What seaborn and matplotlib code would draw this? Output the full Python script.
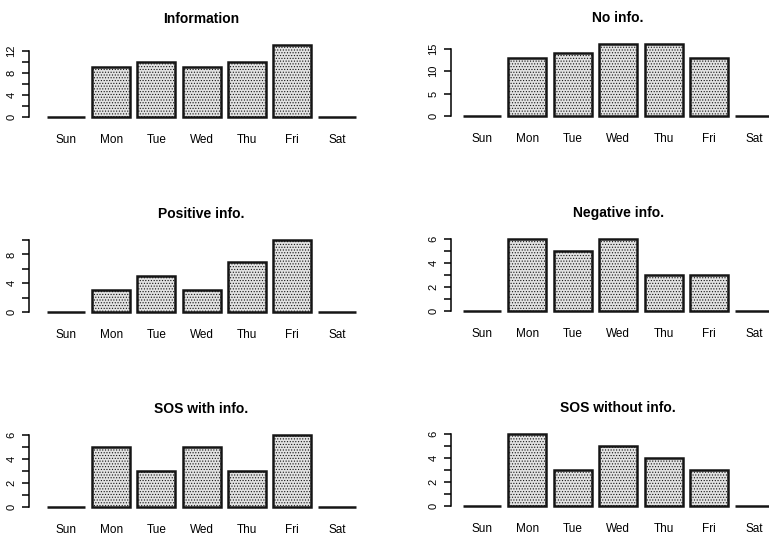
import matplotlib
matplotlib.use('Agg')
import matplotlib.pyplot as plt
import seaborn as sns
import pandas as pd
from matplotlib.ticker import FixedLocator

days = ['Sun', 'Mon', 'Tue', 'Wed', 'Thu', 'Fri', 'Sat']

titles = ['Information', 'No info.', 'Positive info.',
          'Negative info.', 'SOS with info.', 'SOS without info.']

information = [0, 9, 10, 9, 10, 13, 0]
no_info = [0, 13, 14, 16, 16, 13, 0]
positive_info = [0, 3, 5, 3, 7, 10, 0]
negative_info = [0, 6, 5, 6, 3, 3, 0]
sos_with_info = [0, 5, 3, 5, 3, 6, 0]
sos_without_info = [0, 6, 3, 5, 4, 3, 0]

# labelled ticks and all tick marks (R drops labels that would overlap)
major_ticks = [[0, 4, 8, 12], [0, 5, 10, 15], [0, 4, 8],
               [0, 2, 4, 6], [0, 2, 4, 6], [0, 2, 4, 6]]
all_ticks = [[0, 2, 4, 6, 8, 10, 12], [0, 5, 10, 15], [0, 2, 4, 6, 8, 10],
             [0, 1, 2, 3, 4, 5, 6], [0, 1, 2, 3, 4, 5, 6], [0, 1, 2, 3, 4, 5, 6]]

series = [information, no_info, positive_info,
          negative_info, sos_with_info, sos_without_info]

df = pd.DataFrame({
    'panel': [t for t in titles for _ in days],
    'day': days * len(titles),
    'count': [v for s in series for v in s],
})

plt.rcParams['font.family'] = ['Liberation Sans', 'DejaVu Sans']
plt.rcParams['hatch.color'] = '#b4b4b4'
plt.rcParams['hatch.linewidth'] = 0.5

W, H = 769, 541
fig = plt.figure(figsize=(W / 100, H / 100), dpi=100)

# layout in pixels: (spine x, Sun centre, spacing) per column, baseline per row
cols = [(29, 66, 45.2), (451, 482, 45.4)]
baselines = [[117, 312, 507], [116, 311, 506]]
plot_h = 72  # pixels from baseline to tallest bar

for i, title in enumerate(titles):
    r, c = divmod(i, 2)
    spine_x, sun_c, step = cols[c]
    lo = (spine_x - sun_c) / step
    hi = 6 - lo
    width_px = (hi - lo) * step
    base = baselines[c][r]
    ax_h = plot_h * 1.08
    bottom = base + 0.04 * plot_h
    ax = fig.add_axes([spine_x / W, 1 - bottom / H, width_px / W, ax_h / H])

    sub = df[df['panel'] == title]
    sns.barplot(data=sub, x='day', y='count', order=days, ax=ax,
                color='#e2e2e2', edgecolor='#151515', linewidth=1.8,
                width=0.84, saturation=1, hatch='......')
    m = sub['count'].max()
    ax.set_xlim(lo, hi)
    ax.set_ylim(-0.04 * m, 1.04 * m)

    ax.set_title(title, fontsize=10, fontweight='bold', pad=14)
    ax.set_xlabel('')
    ax.set_ylabel('')
    for s in ['top', 'right', 'bottom']:
        ax.spines[s].set_visible(False)
    ax.spines['left'].set_bounds(0, all_ticks[i][-1])
    ax.spines['left'].set_linewidth(1.1)
    ax.yaxis.set_major_locator(FixedLocator(major_ticks[i]))
    minor = [t for t in all_ticks[i] if t not in major_ticks[i]]
    ax.yaxis.set_minor_locator(FixedLocator(minor))
    ax.tick_params(axis='y', which='both', length=5, width=1.1, pad=4,
                   labelsize=8, labelrotation=90)
    for lab in ax.get_yticklabels():
        lab.set_va('center')
    ax.tick_params(axis='x', length=0, pad=10, labelsize=8.5)
    ax.set_facecolor('none')

fig.patch.set_facecolor('white')
fig.savefig('out.png', dpi=100)
